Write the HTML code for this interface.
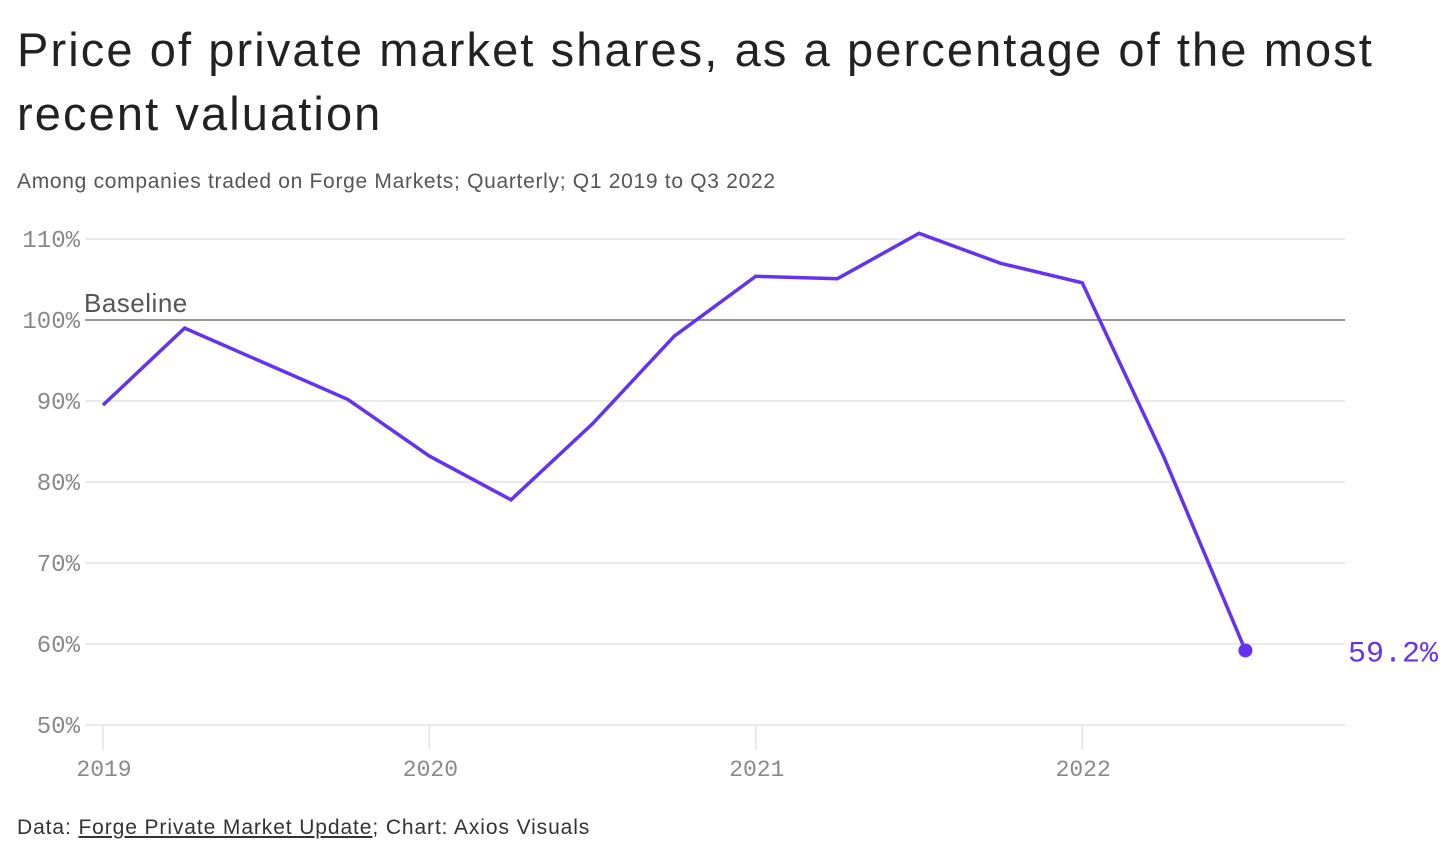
<!DOCTYPE html>
<html><head><meta charset="utf-8">
<style>
body{margin:0;background:#fff;width:1456px;height:868px;overflow:hidden;font-family:"Liberation Sans",sans-serif;}
#title{position:absolute;left:17px;top:18px;font-size:47px;line-height:64px;color:#222;letter-spacing:2.1px;margin:0;font-weight:normal;width:1440px;white-space:nowrap}
#sub{position:absolute;left:17px;top:170px;font-size:21px;color:#555;letter-spacing:0.7px}
#foot{position:absolute;left:17px;top:816px;font-size:21px;color:#333;letter-spacing:0.9px}
#foot u{text-decoration:underline}
svg{position:absolute;left:0;top:0}
</style></head><body>
<h1 id="title">Price of private market shares, as a percentage of the most<br>recent valuation</h1>
<div id="sub">Among companies traded on Forge Markets; Quarterly; Q1 2019 to Q3 2022</div>
<svg id="chart" width="1456" height="868"></svg>
<div id="foot">Data: <u>Forge Private Market Update</u>; Chart: Axios Visuals</div>
<script>
const quarters=["2019Q1","2019Q2","2019Q3","2019Q4","2020Q1","2020Q2","2020Q3","2020Q4","2021Q1","2021Q2","2021Q3","2021Q4","2022Q1","2022Q2","2022Q3"];
const values=[89.5,99.0,94.6,90.2,83.2,77.8,87.2,98.0,105.4,105.1,110.7,107.0,104.6,83.1,59.2];
const yTicks=[50,60,70,80,90,100,110];
const xTickLabels=["2019","2020","2021","2022"];
const NS="http://www.w3.org/2000/svg";
const svg=document.getElementById('chart');
const y=v=>725-(v-50)*8.1;
const x=i=>103+i*81.6;
function mk(t,a){const e=document.createElementNS(NS,t);for(const k in a)e.setAttribute(k,a[k]);svg.appendChild(e);return e;}
yTicks.forEach(v=>{
  const l=mk('line',{x1:85,x2:1345,y1:y(v),y2:y(v),stroke:v===100?'#777':'#e3e3e3','stroke-width':1.5});
  
  
  const t=mk('text',{x:80,y:y(v)+8,'text-anchor':'end','font-family':'Liberation Mono, monospace','font-size':24,fill:'#888'});
  t.textContent=v+'%';
  
  
});
xTickLabels.forEach((lab,j)=>{
  const xx=x(j*4);
  const l=mk('line',{x1:xx,x2:xx,y1:725,y2:750,stroke:'#e3e3e3','stroke-width':1.5});
  
  
  const t=mk('text',{x:xx+1,y:776,'text-anchor':'middle','font-family':'Liberation Mono, monospace','font-size':23,fill:'#888'});
  t.textContent=lab;
  
  
});
const bl=mk('text',{x:84,y:312,'font-size':26,fill:'#555','font-family':'Liberation Sans, sans-serif','letter-spacing':0.5});
bl.textContent='Baseline';


const p=mk('polyline',{points:values.map((v,i)=>x(i)+','+y(v)).join(' '),fill:'none',stroke:'#6533ee','stroke-width':3.5,'stroke-linejoin':'miter'});


const n=values.length-1;
const c=mk('circle',{cx:x(n),cy:y(values[n]),r:7,fill:'#6533ee'});


const lt=mk('text',{x:1438,y:y(values[n])+11,'text-anchor':'end','font-family':'Liberation Mono, monospace','font-size':30,fill:'#6533ee'});
lt.textContent=values[n].toFixed(1)+'%';


</script>
</body></html>
